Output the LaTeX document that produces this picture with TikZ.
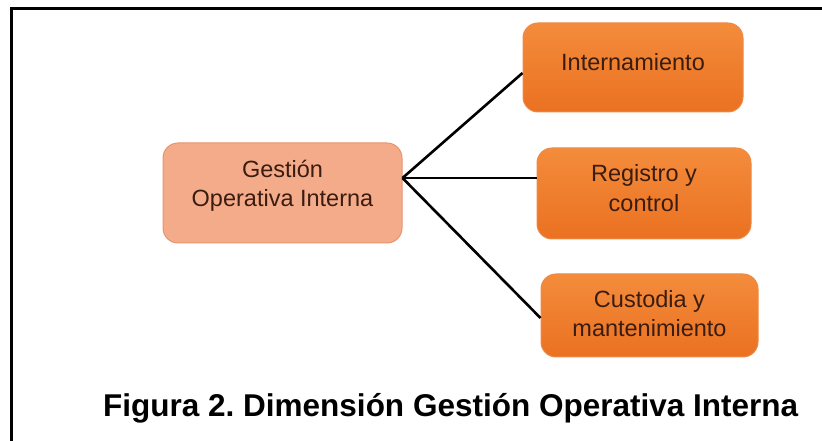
\documentclass[tikz,border=0pt]{standalone}
\usepackage{fontspec}
\setmainfont{Liberation Sans}
\usetikzlibrary{calc}
\frenchspacing
\definecolor{hubfill}{HTML}{F4AB8A}
\definecolor{hubdraw}{HTML}{E8946F}
\definecolor{orgtop}{HTML}{F38C3C}
\definecolor{orgbot}{HTML}{EA7121}
\definecolor{orgdraw}{HTML}{EE8A45}
\definecolor{txtbrown}{HTML}{3A1C10}
\tikzset{
  hubbox/.style={draw=hubdraw, line width=1pt, fill=hubfill, rounded corners=15pt, inner sep=0pt},
  orgbox/.style={draw=orgdraw, line width=1pt, top color=orgtop, bottom color=orgbot, rounded corners=15pt, inner sep=0pt},
  lbl/.style={align=center, text=txtbrown, font=\fontsize{23.5}{29.5}\selectfont, inner sep=0pt},
  link/.style={line width=2.6pt, black},
  frameline/.style={line width=3pt, black}
}
\begin{document}
\begin{tikzpicture}[x=1pt,y=1pt]
\useasboundingbox (0,0) rectangle (822,441);
% frame
\draw[frameline] (11,0) -- (11,432) -- (822,432);
% boxes (y = 441 - pixel y)
\node[hubbox, minimum width=239pt, minimum height=100pt] (hub) at (282.5,248) {};
\node[orgbox, minimum width=220pt, minimum height=89pt] (b1) at (633,373.5) {};
\node[orgbox, minimum width=214pt, minimum height=91pt] (b2) at (644,247.5) {};
\node[orgbox, minimum width=217pt, minimum height=83pt] (b3) at (649.5,125.5) {};
% texts
\node[lbl] (thub) at ([yshift=7pt]hub.center) {Gestión\\Operativa Interna};
\node[lbl] (t1) at ([yshift=5.5pt]b1.center) {Internamiento};
\node[lbl] (t2) at ([yshift=5.5pt]b2.center) {Registro y\\control};
\node[lbl] (t3) at ([yshift=2pt]b3.center) {Custodia y\\mantenimiento};
% connectors
\coordinate (hp) at ([yshift=15pt]hub.east);
\draw[link] (hp) -- ([yshift=-5.5pt]b1.west);
\draw[link] (hp) -- ([yshift=15.5pt]b2.west);
\draw[link] (hp) -- ([yshift=-2.5pt]b3.west);
% caption
\node[anchor=base west, inner sep=0pt, font=\fontsize{31.5}{36}\selectfont\bfseries] (cap) at (103,24) {Figura 2. Dimensión Gestión Operativa Interna};
\end{tikzpicture}
\end{document}
